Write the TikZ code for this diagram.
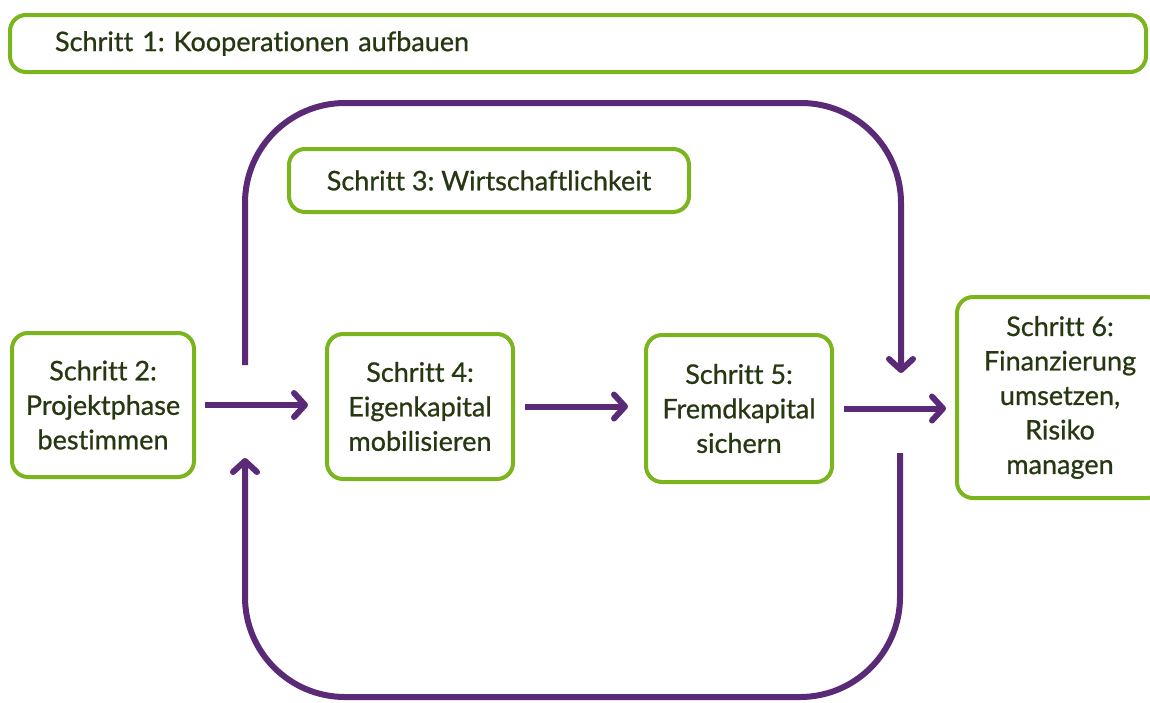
\documentclass[tikz,border=0pt]{standalone}
\usepackage{fontspec}
\setmainfont{Lato}[Ligatures={CommonOff}, FakeBold=0.8]
\usetikzlibrary{arrows.meta}
\definecolor{gr}{RGB}{122,181,29}
\definecolor{pu}{RGB}{91,42,118}
\definecolor{tx}{RGB}{38,56,18}
\begin{document}
\frenchspacing
\begin{tikzpicture}[x=1pt,y=-1pt,
  box/.style={draw=gr, line width=4pt, rounded corners=16pt, align=center, text=tx,
    font=\fontsize{27}{34.5}\selectfont, inner sep=0pt},
  arr/.style={draw=pu, line width=6pt,
    -{Straight Barb[round, length=11pt, width=24pt, line width=6pt]}}]
\useasboundingbox (0,0) rectangle (1150,702);
\node[box, text width=1046pt, inner xsep=45pt, minimum height=57pt, align=left] (s1) at (578,43.5) {Schritt 1: Kooperationen aufbauen};
\node[box, minimum width=400pt, minimum height=63pt] (s3) at (489,180.5) {Schritt 3: Wirtschaftlichkeit};
\node[box, minimum width=182pt, minimum height=144pt] (s2) at (103,405) {Schritt 2:\\Projektphase\\bestimmen};
\node[box, minimum width=186pt, minimum height=145pt] (s4) at (420,406.5) {Schritt 4:\\Eigenkapital\\mobilisieren};
\node[box, minimum width=186pt, minimum height=147pt] (s5) at (739,408.5) {Schritt 5:\\Fremdkapital\\sichern};
\node[box, minimum width=206pt, minimum height=201pt] (s6) at (1060,397.5) {Schritt 6:\\Finanzierung\\umsetzen,\\Risiko\\managen};
\draw[arr] ([xshift=9pt]s2.east) -- ([xshift=-17pt]s2.east -| s4.west);
\draw[arr] ([xshift=10pt]s4.east) -- ([xshift=-16pt]s4.east -| s5.west);
\draw[arr] ([xshift=10pt]s5.east) -- ([xshift=-9pt]s5.east -| s6.west);
\coordinate (la) at (245,365);
\coordinate (ra) at (901,373);
\coordinate (rb) at (900,453);
\coordinate (lb) at (245,458);
\draw[arr, rounded corners=100pt] (la) -- (245,103) -- (901,103) -- (ra);
\draw[arr, rounded corners=100pt] (rb) -- (900,697) -- (245,697) -- (lb);
\end{tikzpicture}
\end{document}
